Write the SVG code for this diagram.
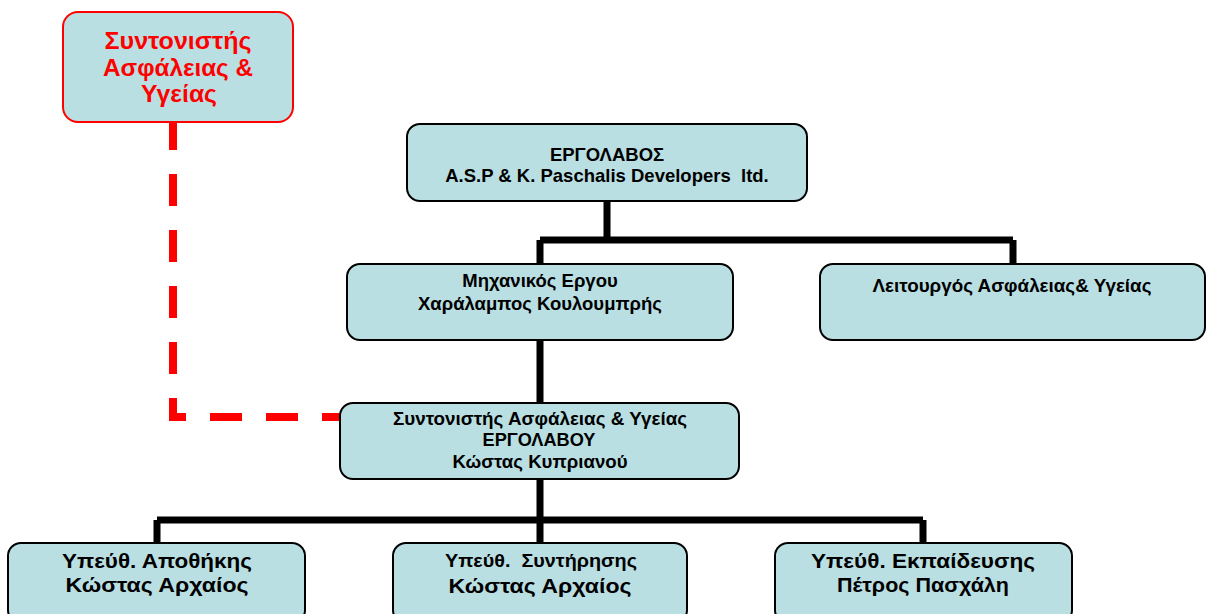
<svg xmlns="http://www.w3.org/2000/svg" width="1208" height="614" viewBox="0 0 1208 614">
<style>
.box{fill:#B9DFE3;stroke:#000;stroke-width:2}
.red{fill:#B9DFE3;stroke:#FF0000;stroke-width:2}
text{font-family:"Liberation Sans",Arial,sans-serif;font-weight:bold;text-anchor:middle;fill:#000}
.rt{fill:#FF0000;font-size:23.5px}
.conn{fill:none;stroke:#000;stroke-width:7}
.dash{fill:none;stroke:#FF0000;stroke-width:8;stroke-dasharray:32 24;stroke-linejoin:miter}
</style>
<rect width="1208" height="614" fill="#fff"/>
<g id="connectors">
<path class="conn" d="M607,201 V240 M540,240 H1013 M540,240 V264 M1013,240 V264"/>
<path class="conn" d="M540,340 V403"/>
<path class="conn" d="M540,479 V543 M157,520 H923 M157,520 V543 M923,520 V543"/>
<path class="dash" d="M173,118 V417 H340"/>
</g>
<g id="n_coord">
<rect class="red" x="63" y="12" width="230" height="110" rx="15"/>
<text class="rt" x="178" y="49" textLength="147" lengthAdjust="spacingAndGlyphs">Συντονιστής</text>
<text class="rt" x="178" y="76" textLength="150" lengthAdjust="spacingAndGlyphs">Ασφάλειας &amp;</text>
<text class="rt" x="179" y="102" textLength="76" lengthAdjust="spacingAndGlyphs">Υγείας</text>
</g>
<g id="n_contractor">
<rect class="box" x="407" y="124" width="400" height="77" rx="13"/>
<text x="607" y="161" font-size="18.5">ΕΡΓΟΛΑΒΟΣ</text>
<text x="607" y="182" font-size="18.5" xml:space="preserve">A.S.P &amp; K. Paschalis Developers  ltd.</text>
</g>
<g id="n_engineer">
<rect class="box" x="347" y="264" width="386" height="76" rx="13"/>
<text x="540" y="287" font-size="18.5">Μηχανικός Εργου</text>
<text x="540" y="310" font-size="18.5">Χαράλαμπος Κουλουμπρής</text>
</g>
<g id="n_officer">
<rect class="box" x="820" y="264" width="385" height="76" rx="13"/>
<text x="1012" y="292" font-size="17.5" textLength="279" lengthAdjust="spacingAndGlyphs">Λειτουργός Ασφάλειας&amp; Υγείας</text>
</g>
<g id="n_sitecoord">
<rect class="box" x="340" y="403" width="399" height="76" rx="13"/>
<text x="540" y="425" font-size="17.5" textLength="294" lengthAdjust="spacingAndGlyphs">Συντονιστής Ασφάλειας &amp; Υγείας</text>
<text x="539" y="446" font-size="17.5" textLength="113" lengthAdjust="spacingAndGlyphs">ΕΡΓΟΛΑΒΟΥ</text>
<text x="540" y="468" font-size="17.5" textLength="175" lengthAdjust="spacingAndGlyphs">Κώστας Κυπριανού</text>
</g>
<g id="n_storage">
<rect class="box" x="8" y="543" width="297" height="80" rx="13"/>
<text x="157" y="568" font-size="20.5" textLength="190" lengthAdjust="spacingAndGlyphs">Υπεύθ. Αποθήκης</text>
<text x="157" y="592" font-size="20.5" textLength="183" lengthAdjust="spacingAndGlyphs">Κώστας Αρχαίος</text>
</g>
<g id="n_maint">
<rect class="box" x="393" y="543" width="294" height="80" rx="13"/>
<text x="541" y="567" font-size="17.5" xml:space="preserve" textLength="192" lengthAdjust="spacingAndGlyphs">Υπεύθ.  Συντήρησης</text>
<text x="540" y="593" font-size="20.5" textLength="183" lengthAdjust="spacingAndGlyphs">Κώστας Αρχαίος</text>
</g>
<g id="n_training">
<rect class="box" x="775" y="543" width="297" height="80" rx="13"/>
<text x="923" y="568" font-size="20.5" textLength="224" lengthAdjust="spacingAndGlyphs">Υπεύθ. Εκπαίδευσης</text>
<text x="923" y="592" font-size="20.5" textLength="172" lengthAdjust="spacingAndGlyphs">Πέτρος Πασχάλη</text>
</g>
</svg>
